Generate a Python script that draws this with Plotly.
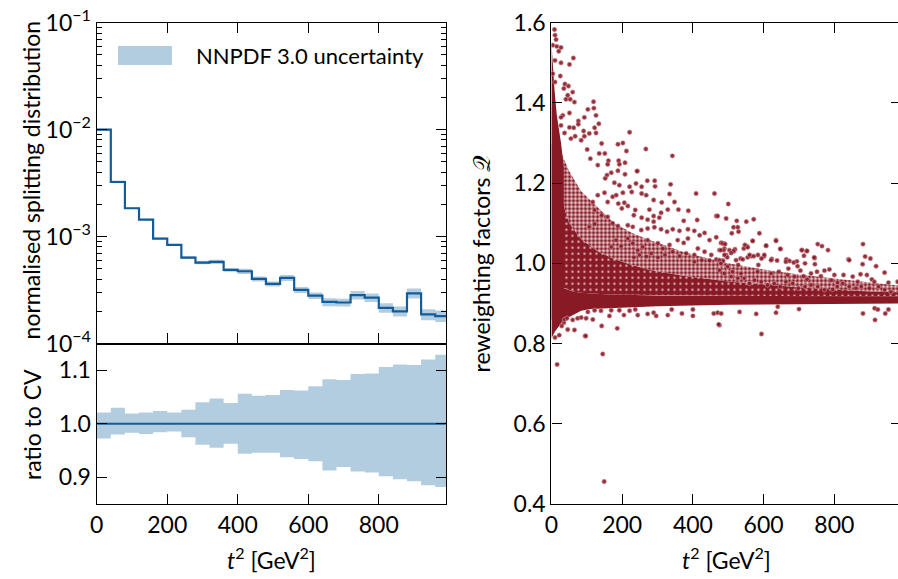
import plotly.graph_objects as go

# ---------------- data: left panels ----------------
bin_edges = [0, 40, 80, 120, 160, 200, 240, 280, 320, 360, 400, 440, 480, 520,
             560, 600, 640, 680, 720, 760, 800, 840, 880, 920, 960, 1000]
cv = [1.00e-2, 3.24e-3, 1.84e-3, 1.44e-3, 9.57e-4, 8.35e-4, 6.37e-4, 5.72e-4,
      5.80e-4, 4.88e-4, 4.74e-4, 4.02e-4, 3.61e-4, 4.11e-4, 3.18e-4, 2.81e-4,
      2.45e-4, 2.42e-4, 2.83e-4, 2.69e-4, 2.15e-4, 2.00e-4, 2.95e-4, 1.87e-4, 1.80e-4]
ratio_up = [1.021, 1.030, 1.019, 1.021, 1.024, 1.021, 1.026, 1.040, 1.047, 1.039,
            1.056, 1.0525, 1.054, 1.063, 1.062, 1.070, 1.083, 1.082, 1.093, 1.094,
            1.106, 1.111, 1.110, 1.120, 1.129]
ratio_dn = [0.9725, 0.980, 0.983, 0.981, 0.984, 0.9856, 0.975, 0.961, 0.955, 0.9625,
            0.944, 0.9456, 0.9456, 0.9375, 0.934, 0.930, 0.9125, 0.919, 0.9106, 0.9088,
            0.902, 0.8963, 0.8925, 0.885, 0.882]
left_xticks = [0, 200, 400, 600, 800]
log_ticks = [1e-4, 1e-3, 1e-2, 1e-1]
log_ticktext = ["10<sup>\u22124</sup>", "10<sup>\u22123</sup>", "10<sup>\u22122</sup>", "10<sup>\u22121</sup>"]
ratio_ticks = [0.9, 1.0, 1.1]

# ---------------- data: right panel (reweighting factors) ----------------
right_yticks = [0.4, 0.6, 0.8, 1.0, 1.2, 1.4, 1.6]
# densely populated regions (envelopes)
cloud_outer_x = [0, 10, 25, 50, 84, 130, 178, 230, 272, 320, 367, 430, 500, 600, 700, 800, 900, 980]
cloud_outer_y = [1.40, 1.34, 1.28, 1.23, 1.18, 1.14, 1.10, 1.075, 1.06, 1.045, 1.03, 1.015,
                 1.0, 0.985, 0.972, 0.962, 0.952, 0.945]
cloud_inner_x = [0, 25, 50, 84, 130, 178, 230, 272, 367, 500, 600, 700, 800, 900, 980]
cloud_inner_y = [1.30, 1.17, 1.10, 1.06, 1.03, 1.01, 0.995, 0.985, 0.97, 0.955, 0.948,
                 0.94, 0.935, 0.93, 0.928]
core_x = [0, 10, 20, 30, 45, 60, 84, 110, 150, 200, 300, 500, 700, 980]
core_top = [0.96, 0.95, 0.945, 0.94, 0.935, 0.93, 0.927, 0.925, 0.923, 0.922, 0.920,
            0.919, 0.918, 0.918]
core_bottom = [0.813, 0.83, 0.843, 0.854, 0.864, 0.871, 0.882, 0.886, 0.888, 0.890,
               0.893, 0.897, 0.899, 0.900]
column_x = [0, 3, 8, 15, 27, 35]
column_top = [1.55, 1.50, 1.44, 1.37, 1.30, 1.24]

# individual points (sparse regions)
upper_x = [8.5, 10, 13, 3.7, 15, 27, 20.7, 10, 27, 51, 62, 3.7, 25, 10, 38, 48, 35, 60, 46,
           41, 53, 65, 119, 103, 120, 51, 32, 27, 76, 93, 126, 134, 76, 27, 51, 63, 122, 107,
           126, 221, 37, 91, 93, 67, 55, 84, 142, 188, 202, 267, 342, 212, 135, 151, 243, 292, 337]
upper_y = [1.583, 1.569, 1.558, 1.544, 1.541, 1.538, 1.529, 1.506, 1.500, 1.496, 1.512, 1.473,
           1.467, 1.452, 1.447, 1.442, 1.436, 1.427, 1.419, 1.409, 1.409, 1.402, 1.403, 1.384,
           1.387, 1.375, 1.369, 1.364, 1.355, 1.364, 1.369, 1.348, 1.347, 1.344, 1.339, 1.338,
           1.338, 1.324, 1.325, 1.327, 1.325, 1.330, 1.317, 1.317, 1.311, 1.307, 1.299, 1.297,
           1.300, 1.285, 1.268, 1.280, 1.274, 1.274, 1.230, 1.206, 1.197]
mid_x = [101, 110, 131, 161, 159, 190, 192, 208, 188, 242, 208, 169, 157, 152, 178, 192, 221,
         227, 202, 239, 255, 271, 293, 268, 255, 334, 409, 461, 348, 312, 289, 277, 329, 359,
         387, 412, 466, 494, 374, 310, 305, 289, 289, 272, 255, 237, 233, 216, 206, 189, 199,
         173, 183, 159, 150, 131, 122, 117, 142, 159, 107, 122, 173, 188, 216, 230, 254, 272,
         291, 310, 327, 343, 362, 386, 404, 419, 433, 447, 466, 480, 489, 386, 374, 357, 334,
         315, 301, 272, 258, 244, 230, 216, 197, 183, 169, 414, 433, 452, 475, 494, 404, 381,
         362, 343, 321, 301, 282, 268, 249, 233, 404, 425, 447, 466, 485,
         500, 470, 524, 551, 572, 515, 527, 529, 510, 588, 569, 635, 480, 489, 553, 544, 607,
         648, 753, 765, 782, 708, 721, 881, 887, 902, 840, 744, 714, 623, 664, 673, 694, 487,
         503, 516, 519, 497, 485, 475, 535, 555, 565, 584, 601]
mid_y = [1.284, 1.261, 1.245, 1.256, 1.247, 1.256, 1.247, 1.251, 1.231, 1.230, 1.222, 1.226,
         1.220, 1.212, 1.201, 1.195, 1.191, 1.178, 1.176, 1.199, 1.191, 1.206, 1.192, 1.170,
         1.174, 1.173, 1.174, 1.174, 1.153, 1.152, 1.158, 1.134, 1.134, 1.134, 1.131, 1.108,
         1.118, 1.112, 1.106, 1.126, 1.114, 1.118, 1.104, 1.109, 1.114, 1.133, 1.120, 1.143,
         1.151, 1.149, 1.137, 1.166, 1.170, 1.153, 1.176, 1.170, 1.133, 1.153, 1.120, 1.116,
         1.091, 1.098, 1.100, 1.093, 1.095, 1.091, 1.083, 1.087, 1.090, 1.085, 1.079, 1.085,
         1.081, 1.085, 1.081, 1.070, 1.076, 1.058, 1.065, 1.051, 1.037, 1.062, 1.051, 1.058,
         1.046, 1.037, 1.050, 1.058, 1.041, 1.033, 1.050, 1.062, 1.043, 1.058, 1.041, 1.037,
         1.029, 1.021, 1.033, 1.021, 1.021, 1.025, 1.018, 1.029, 1.021, 1.015, 1.025, 1.017,
         1.021, 1.015, 1.004, 1.008, 1.007, 1.010, 1.007,
         1.148, 1.118, 1.106, 1.104, 1.110, 1.090, 1.090, 1.079, 1.075, 1.075, 1.056, 1.058,
         1.051, 1.049, 1.043, 1.037, 1.044, 1.036, 1.048, 1.043, 1.033, 1.033, 1.031, 1.048,
         1.017, 1.012, 1.010, 1.013, 1.019, 1.011, 1.010, 1.006, 1.005, 1.033, 1.033, 1.030,
         1.035, 1.015, 1.006, 1.008, 1.012, 1.015, 1.018, 1.021, 1.017]
cloud_x = [484, 491, 569, 607, 647, 635, 708, 723, 743, 918, 942, 953, 979, 880, 479, 489, 515,
           508, 522, 541, 528, 536, 555, 547, 560, 572, 585, 594, 602, 621, 638, 643, 663, 670,
           685, 696, 704, 717, 713, 723, 745, 751, 762, 772, 786, 791, 809, 826, 842, 852, 874,
           892, 906, 913, 925, 942, 960, 899, 876, 861, 842, 824, 808, 795, 772, 753, 734, 717,
           698, 682, 663, 647, 630, 611, 593, 574, 560, 545, 527, 508, 489, 475, 479, 498, 512,
           583, 621, 668, 687, 734, 800, 866]
cloud_y = [1.050, 1.048, 1.056, 1.044, 1.036, 1.056, 1.033, 1.031, 1.015, 0.993, 0.977, 0.952,
           0.954, 0.998, 1.033, 1.021, 1.031, 1.026, 1.008, 1.010, 0.996, 0.975, 1.040, 1.046,
           1.021, 1.018, 0.996, 1.012, 1.021, 1.008, 1.007, 0.979, 1.004, 0.987, 1.002, 0.993,
           0.982, 1.000, 0.968, 0.960, 0.998, 0.979, 0.968, 0.982, 0.985, 0.958, 0.952, 0.971,
           1.008, 0.967, 0.973, 0.971, 0.960, 0.954, 0.942, 0.934, 0.929, 0.938, 0.942, 0.938,
           0.942, 0.950, 0.942, 0.935, 0.934, 0.942, 0.946, 0.942, 0.938, 0.950, 0.954, 0.942,
           0.950, 0.946, 0.954, 0.958, 0.950, 0.963, 0.963, 0.967, 0.975, 0.983, 1.000, 0.992,
           0.979, 0.979, 0.975, 0.971, 0.967, 0.975, 0.971, 0.954]
lower_x = [10, 22, 35, 46, 65, 60, 74, 84, 98, 117, 95, 142, 186, 164, 145, 192, 221, 237, 205,
           244, 272, 289, 296, 329, 340, 369, 400, 400, 459, 470, 475, 480, 37, 29, 44, 103, 122,
           140, 169, 16, 149, 594, 915, 97, 532, 579, 640, 635, 700, 881, 914, 923, 944, 953, 473]
lower_y = [0.815, 0.821, 0.852, 0.835, 0.834, 0.859, 0.863, 0.865, 0.863, 0.860, 0.819, 0.844,
           0.838, 0.869, 0.774, 0.883, 0.882, 0.885, 0.871, 0.871, 0.874, 0.877, 0.869, 0.871,
           0.885, 0.875, 0.885, 0.869, 0.875, 0.877, 0.846, 0.875, 0.860, 0.844, 0.863, 0.879,
           0.883, 0.882, 0.883, 0.748, 0.456, 0.824, 0.859, 0.819, 0.879, 0.874, 0.892, 0.877,
           0.886, 0.875, 0.888, 0.885, 0.875, 0.885, 0.848]

# ---------------- style ----------------
FONT = "Lato"
FS = 23
LINE_BLUE = "#125c99"
BAND_BLUE = "#b3cde0"
RED = "#871a25"

fig = go.Figure()


def steps(vals):
    return list(vals) + [vals[-1]]


up_top = [c * r for c, r in zip(cv, ratio_up)]
dn_top = [c * r for c, r in zip(cv, ratio_dn)]

# top-left: band + central value
fig.add_trace(go.Scatter(x=bin_edges, y=steps(dn_top), mode="lines", line=dict(width=0, shape="hv"),
                         xaxis="x3", yaxis="y3", showlegend=False, hoverinfo="skip"))
fig.add_trace(go.Scatter(x=bin_edges, y=steps(up_top), mode="lines", line=dict(width=0, shape="hv"),
                         fill="tonexty", fillcolor=BAND_BLUE, xaxis="x3", yaxis="y3",
                         showlegend=False, hoverinfo="skip"))
fig.add_trace(go.Scatter(x=bin_edges, y=steps(cv), mode="lines",
                         line=dict(width=2.2, color=LINE_BLUE, shape="hv"),
                         xaxis="x3", yaxis="y3", showlegend=False))

# bottom-left: ratio
fig.add_trace(go.Scatter(x=bin_edges, y=steps(ratio_dn), mode="lines", line=dict(width=0, shape="hv"),
                         xaxis="x", yaxis="y", showlegend=False, hoverinfo="skip"))
fig.add_trace(go.Scatter(x=bin_edges, y=steps(ratio_up), mode="lines", line=dict(width=0, shape="hv"),
                         fill="tonexty", fillcolor=BAND_BLUE, xaxis="x", yaxis="y",
                         showlegend=False, hoverinfo="skip"))
fig.add_trace(go.Scatter(x=bin_edges, y=[c / c for c in steps(cv)], mode="lines",
                         line=dict(width=2.2, color=LINE_BLUE, shape="hv"),
                         xaxis="x", yaxis="y", showlegend=False))

# right: dense regions as textured envelopes
# outer ring (sparser speckle)
fig.add_trace(go.Scatter(x=cloud_outer_x + cloud_inner_x[::-1], y=cloud_outer_y + cloud_inner_y[::-1],
                         mode="lines", fill="toself", fillcolor="rgba(0,0,0,0)",
                         fillpattern=dict(shape=".", fgcolor=RED, bgcolor="rgba(135,26,37,0.18)",
                                          size=4, solidity=0.55),
                         line=dict(width=0), xaxis="x2", yaxis="y2", showlegend=False, hoverinfo="skip"))
# inner region (dense, small light specks)
fig.add_trace(go.Scatter(x=cloud_inner_x + core_x[::-1], y=cloud_inner_y + core_top[::-1],
                         mode="lines", fill="toself", fillcolor="rgba(0,0,0,0)",
                         fillpattern=dict(shape=".", fgcolor="rgba(225,170,178,1)", bgcolor=RED,
                                          size=6, solidity=0.12),
                         line=dict(width=0), xaxis="x2", yaxis="y2", showlegend=False, hoverinfo="skip"))
fig.add_trace(go.Scatter(x=core_x + core_x[::-1], y=core_top + core_bottom[::-1],
                         mode="lines", fill="toself", fillcolor=RED,
                         line=dict(width=0), xaxis="x2", yaxis="y2", showlegend=False, hoverinfo="skip"))
fig.add_trace(go.Scatter(x=column_x + [column_x[-1], column_x[0]],
                         y=column_top + [core_top[0] - 0.1, core_top[0] - 0.1],
                         mode="lines", fill="toself", fillcolor=RED,
                         line=dict(width=0), xaxis="x2", yaxis="y2", showlegend=False, hoverinfo="skip"))

pts_x = upper_x + mid_x + cloud_x + lower_x
pts_y = upper_y + mid_y + cloud_y + lower_y
fig.add_trace(go.Scatter(x=pts_x, y=pts_y, mode="markers",
                         marker=dict(size=4.4, color="rgba(135,26,37,0.9)",
                                     line=dict(width=0.8, color="rgba(205,140,150,0.85)")),
                         xaxis="x2", yaxis="y2", showlegend=False))
# empty trace so the right-hand tick axis is created
fig.add_trace(go.Scatter(x=[], y=[], xaxis="x2", yaxis="y4", showlegend=False))

# ---------------- layout ----------------
LX = [0.1077, 0.4972]
RX = [0.6141, 1.0]
YB = [0.1295, 0.4067]
YT = [0.4067, 0.9608]
YR = [0.1295, 0.9608]

common = dict(showgrid=False, zeroline=False, showline=True, linecolor="black", linewidth=1.4,
              ticks="inside", ticklen=10, tickwidth=1.3, tickcolor="black", automargin=False,
              tickfont=dict(family=FONT, size=FS, color="black"))

fig.update_layout(
    template="none",
    width=898, height=579,
    margin=dict(l=0, r=0, t=0, b=0, autoexpand=False),
    paper_bgcolor="white", plot_bgcolor="white",
    font=dict(family=FONT, size=FS, color="black"),
    showlegend=False,
    xaxis=dict(domain=LX, anchor="y", range=[0, 992], tickvals=left_xticks, mirror=True, **common),
    yaxis=dict(domain=YB, anchor="x", range=[0.85, 1.15], tickvals=ratio_ticks, tickformat=".1f",
               mirror="ticks", **common),
    xaxis3=dict(domain=LX, anchor="y3", range=[0, 992], tickvals=left_xticks, showticklabels=False,
                mirror="ticks", **common),
    yaxis3=dict(domain=YT, anchor="x3", type="log", range=[-4, -1], tickvals=log_ticks,
                ticktext=log_ticktext, mirror="ticks",
                minor=dict(ticks="inside", ticklen=5, tickwidth=1.1, tickcolor="black",
                           tickvals=[m * d for d in [1e-4, 1e-3, 1e-2] for m in range(2, 10)]),
                **common),
    xaxis2=dict(domain=RX, anchor="y2", range=[0, 980], tickvals=left_xticks, mirror="ticks", **common),
    yaxis2=dict(domain=YR, anchor="x2", range=[0.4, 1.6], tickvals=right_yticks, tickformat=".1f",
                mirror=False, **common),
    yaxis4=dict(overlaying="y2", anchor="x2", side="right", range=[0.4, 1.6], tickvals=right_yticks,
                showticklabels=False, showline=False, showgrid=False, zeroline=False, automargin=False,
                ticks="inside", ticklen=7, tickwidth=1.3, tickcolor="black"),
)

# legend (drawn by hand to match the wide swatch)
fig.add_shape(type="rect", xref="paper", yref="paper", x0=0.1314, x1=0.1915, y0=0.8877, y1=0.9206,
              fillcolor=BAND_BLUE, line=dict(width=0))
fig.add_annotation(text="NNPDF 3.0 uncertainty", xref="paper", yref="paper", x=0.216, y=0.9033,
                   xanchor="left", yanchor="middle", showarrow=False, font=dict(family=FONT, size=22))

# axis titles
fig.add_annotation(text="normalised splitting distribution", xref="paper", yref="paper",
                   x=0.0356, y=0.690, textangle=-90, showarrow=False, xanchor="center", yanchor="middle",
                   font=dict(family=FONT, size=FS))
fig.add_annotation(text="ratio to CV", xref="paper", yref="paper",
                   x=0.0356, y=0.2677, textangle=-90, showarrow=False, xanchor="center", yanchor="middle",
                   font=dict(family=FONT, size=FS))
fig.add_annotation(text="reweighting factors \U0001D4AC", xref="paper", yref="paper",
                   x=0.5356, y=0.545, textangle=-90, showarrow=False, xanchor="center", yanchor="middle",
                   font=dict(family=FONT, size=FS))
for xc in [0.3025, 0.8085]:
    fig.add_annotation(text="<i>t</i><sup>2</sup> [GeV<sup>2</sup>]", xref="paper", yref="paper",
                       x=xc, y=0.036, showarrow=False, xanchor="center", yanchor="middle",
                       font=dict(family=FONT, size=FS))

fig.write_html("out.html")
